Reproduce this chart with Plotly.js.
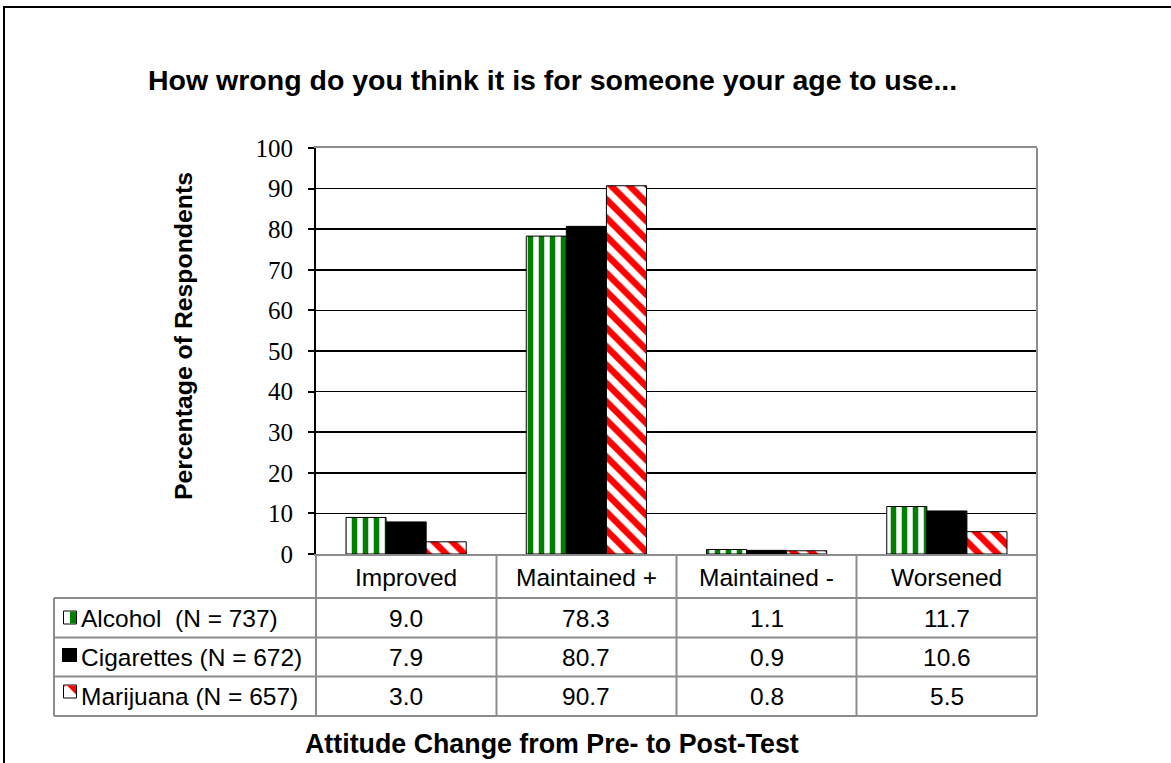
<!DOCTYPE html>
<html>
<head>
<meta charset="utf-8">
<script src="https://cdn.plot.ly/plotly-3.0.1.min.js"></script>
<style>
html,body{margin:0;padding:0;background:#fff;}
#chart{width:1171px;height:763px;}
</style>
</head>
<body>
<div id="chart"></div>
<script>
// ---- data ----
const categories = ['Improved', 'Maintained +', 'Maintained -', 'Worsened'];
const seriesNames = ['Alcohol  (N = 737)', 'Cigarettes (N = 672)', 'Marijuana (N = 657)'];
const alcohol = [9.0, 78.3, 1.1, 11.7];
const cigarettes = [7.9, 80.7, 0.9, 10.6];
const marijuana = [3.0, 90.7, 0.8, 5.5];
const yTicks = [0, 10, 20, 30, 40, 50, 60, 70, 80, 90, 100];
const subtitle = 'How wrong do you think it is for someone your age to use...';
const yTitle = 'Percentage of Respondents';
const xTitle = 'Attitude Change from Pre- to Post-Test';

// ---- geometry helpers (pixel -> paper) ----
const W = 1171, H = 763;
const L = 316, R = 1037, T = 148, B = 554;
const xp = px => (px - L) / (R - L);
const yp = py => (B - py) / (B - T);

const SANS = 'Liberation Sans, Arial, sans-serif';
const SERIF = 'Liberation Serif, Times New Roman, serif';
const GRAY = '#8c8c8c';

const seriesValues = [alcohol, cigarettes, marijuana];
const markers = [
  {color: 'white', line: {color: 'black', width: 1},
   pattern: {shape: '|', fgcolor: '#008000', bgcolor: 'white', size: 11, solidity: 0.5}},
  {color: 'black', line: {color: 'black', width: 1}},
  {color: 'white', line: {color: 'black', width: 1},
   pattern: {shape: '\\', fgcolor: '#ff0000', bgcolor: 'white', size: 13, solidity: 0.5}}
];

const traces = seriesValues.map((vals, i) => ({
  type: 'bar',
  name: seriesNames[i],
  x: categories,
  y: vals,
  marker: markers[i],
  hoverinfo: 'skip'
}));

// ---- table lines ----
const shapes = [];
function line(x0, y0, x1, y1, color, width) {
  shapes.push({type: 'line', xref: 'paper', yref: 'paper',
    x0: xp(x0), y0: yp(y0), x1: xp(x1), y1: yp(y1),
    line: {color: color, width: width}, layer: 'above'});
}
// outer frame
shapes.push({type: 'rect', xref: 'paper', yref: 'paper',
  x0: xp(4), y0: yp(7), x1: xp(1250), y1: yp(850),
  line: {color: 'black', width: 2}, layer: 'below'});
// plot right border
line(R, T, R, B, GRAY, 2);
const colEdges = [316, 496.5, 676.5, 856.5, 1037];
const rowEdges = [598, 637.5, 676.5, 716];
colEdges.forEach(x => line(x, B, x, rowEdges[rowEdges.length - 1], GRAY, 2));
line(54, rowEdges[0], 54, rowEdges[rowEdges.length - 1], GRAY, 2);
rowEdges.forEach(y => line(54, y, R, y, GRAY, 2));

// legend keys
function rect(x0, y0, x1, y1, fill, lineColor) {
  shapes.push({type: 'rect', xref: 'paper', yref: 'paper',
    x0: xp(x0), y0: yp(y0), x1: xp(x1), y1: yp(y1),
    fillcolor: fill, line: {color: lineColor || fill, width: lineColor ? 1 : 0}, layer: 'above'});
}
rect(63.5, 611, 76.5, 624, 'white', 'black');
rect(70, 611.5, 76, 623.5, '#008000');
rect(62, 648, 77, 662, 'black');
rect(63.5, 685, 76.5, 698, 'white', 'black');
shapes.push({type: 'path', xref: 'paper', yref: 'paper',
  path: `M ${xp(67)} ${yp(685.5)} L ${xp(76)} ${yp(685.5)} L ${xp(76)} ${yp(694.5)} Z`,
  fillcolor: '#ff0000', line: {width: 0}, layer: 'above'});
shapes.push({type: 'path', xref: 'paper', yref: 'paper',
  path: `M ${xp(64)} ${yp(685.5)} L ${xp(65.5)} ${yp(685.5)} L ${xp(64)} ${yp(687)} Z`,
  fillcolor: '#ff0000', line: {width: 0}, layer: 'above'});

// ---- annotations ----
const annotations = [];
annotations.push({xref: 'paper', yref: 'paper', x: xp(552), y: yp(80),
  text: '<b>' + subtitle + '</b>', showarrow: false, xanchor: 'center', yanchor: 'middle',
  font: {family: SANS, size: 28.5, color: 'black'}});
annotations.push({xref: 'paper', yref: 'paper', x: xp(183), y: yp(336),
  text: '<b>' + yTitle + '</b>', showarrow: false, textangle: -90, xanchor: 'center', yanchor: 'middle',
  font: {family: SANS, size: 24.8, color: 'black'}});
annotations.push({xref: 'paper', yref: 'paper', x: xp(552), y: yp(744),
  text: '<b>' + xTitle + '</b>', showarrow: false, xanchor: 'center', yanchor: 'middle',
  font: {family: SANS, size: 26.8, color: 'black'}});
categories.forEach((c, i) => {
  annotations.push({xref: 'x', yref: 'paper', x: c, y: yp(577),
    text: c, showarrow: false, xanchor: 'center', yanchor: 'middle',
    font: {family: SANS, size: 24.5, color: 'black'}});
});
const rowCenters = [618, 657, 696.5];
seriesNames.forEach((n, r) => {
  annotations.push({xref: 'paper', yref: 'paper', x: xp(79), y: yp(rowCenters[r]),
    text: n, showarrow: false, xanchor: 'left', yanchor: 'middle',
    font: {family: SANS, size: 24.5, color: 'black'}});
  seriesValues[r].forEach((v, i) => {
    annotations.push({xref: 'x', yref: 'paper', x: categories[i], y: yp(rowCenters[r]),
      text: v.toFixed(1), showarrow: false, xanchor: 'center', yanchor: 'middle',
      font: {family: SANS, size: 24.5, color: 'black'}});
  });
});

const layout = {
  width: W, height: H,
  margin: {l: L, r: W - R, t: T, b: H - B, pad: 0},
  paper_bgcolor: 'white', plot_bgcolor: 'white',
  showlegend: false,
  barmode: 'group', bargap: 0.333, bargroupgap: 0,
  xaxis: {type: 'category', range: [-0.5, 3.5], showticklabels: false, ticks: '',
    showgrid: false, zeroline: false, showline: true, mirror: true,
    linecolor: GRAY, linewidth: 2, fixedrange: true},
  yaxis: {range: [0, 100], tickvals: yTicks, ticktext: yTicks.map(String),
    ticks: 'outside', ticklen: 6, tickwidth: 2, tickcolor: 'black',
    ticklabelstandoff: 10,
    tickfont: {family: SERIF, size: 25, color: 'black'},
    showgrid: true, gridcolor: 'black', gridwidth: 1.5,
    zeroline: false, showline: true, linecolor: 'black', linewidth: 2, fixedrange: true},
  shapes: shapes,
  annotations: annotations
};

Plotly.newPlot('chart', traces, layout, {staticPlot: true, displayModeBar: false});
</script>
</body>
</html>
